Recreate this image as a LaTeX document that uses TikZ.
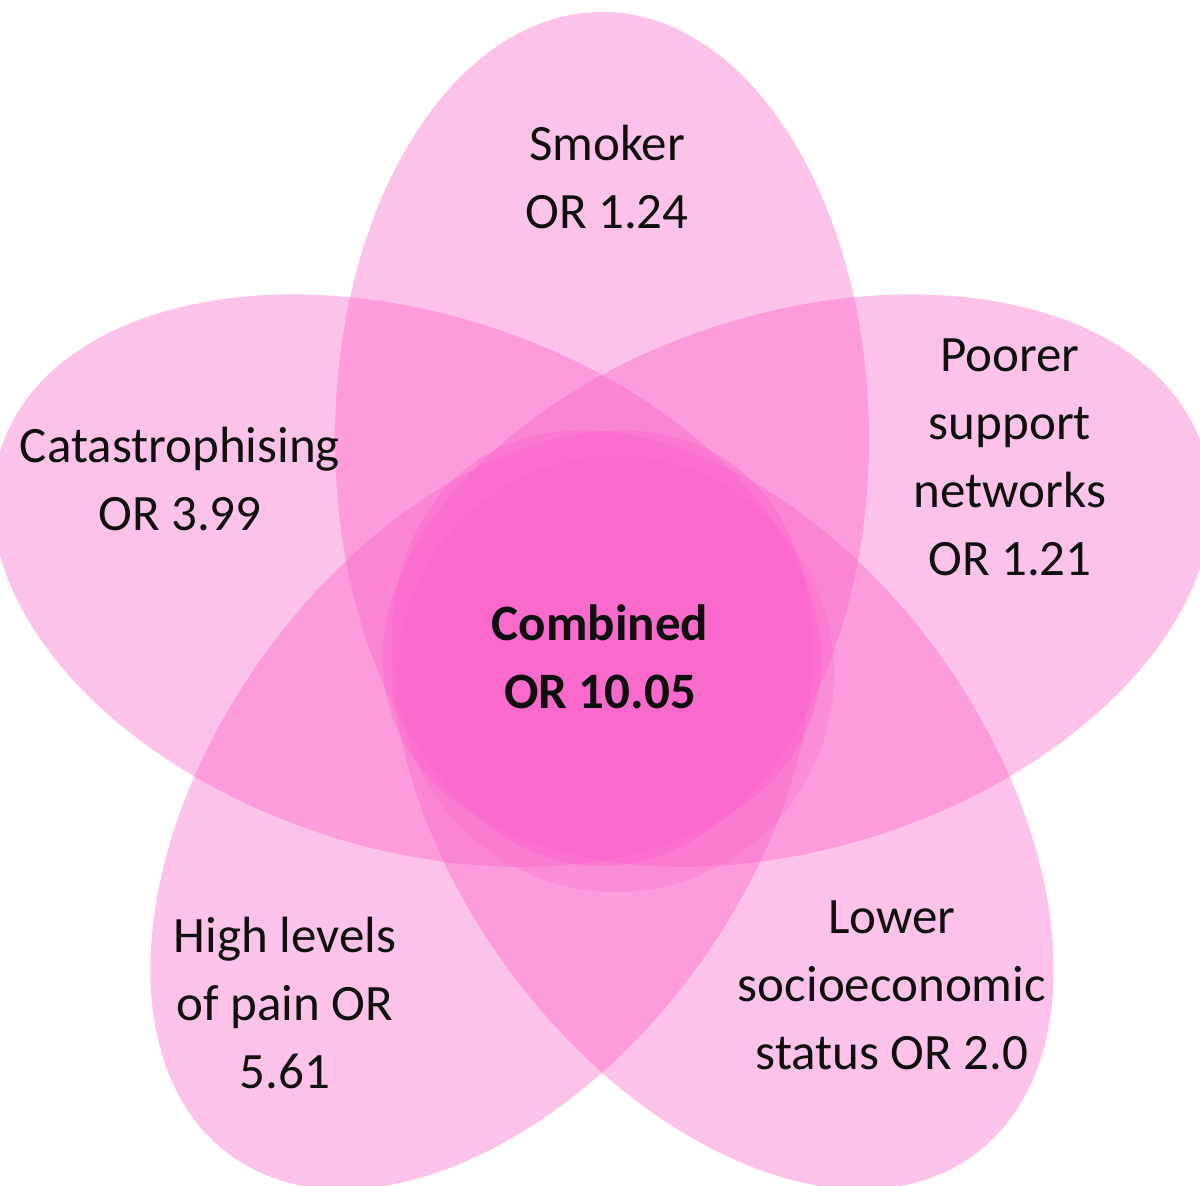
\documentclass[tikz,border=0pt]{standalone}
\usepackage{fontspec}
\setmainfont{Carlito}
\begin{document}
\begin{tikzpicture}[x=1pt,y=1pt,
  petal/.style={fill={rgb,255:red,250;green,95;blue,200},fill opacity=0.38},
  lbl/.style={align=center,text={rgb,255:red,15;green,15;blue,15},font=\fontsize{51}{68}\selectfont}]
\useasboundingbox (0,0) rectangle (1200,1186);
\clip (0,0) rectangle (1200,1186);
\foreach \a in {0,72,144,216,288}
  \fill[petal,rotate around={\a:(602,542)}] (602,747) ellipse [x radius=267, y radius=427];
\fill[petal,fill opacity=0.28] (616,512) circle (218);
\node[lbl] (smk) at (607,1009) {Smoker\\OR 1.24};
\node[lbl] (cat) at (180,707) {Catastrophising\\OR 3.99};
\node[lbl] (poor) at (1010,729) {Poorer\\support\\networks\\OR 1.21};
\node[lbl] (comb) at (600,529) {\bfseries Combined\\\bfseries OR 10.05};
\node[lbl] (pain) at (285,183) {High levels\\of pain OR\\5.61};
\node[lbl] (ses) at (892,201) {Lower\\socioeconomic\\status OR 2.0};
\end{tikzpicture}
\end{document}
